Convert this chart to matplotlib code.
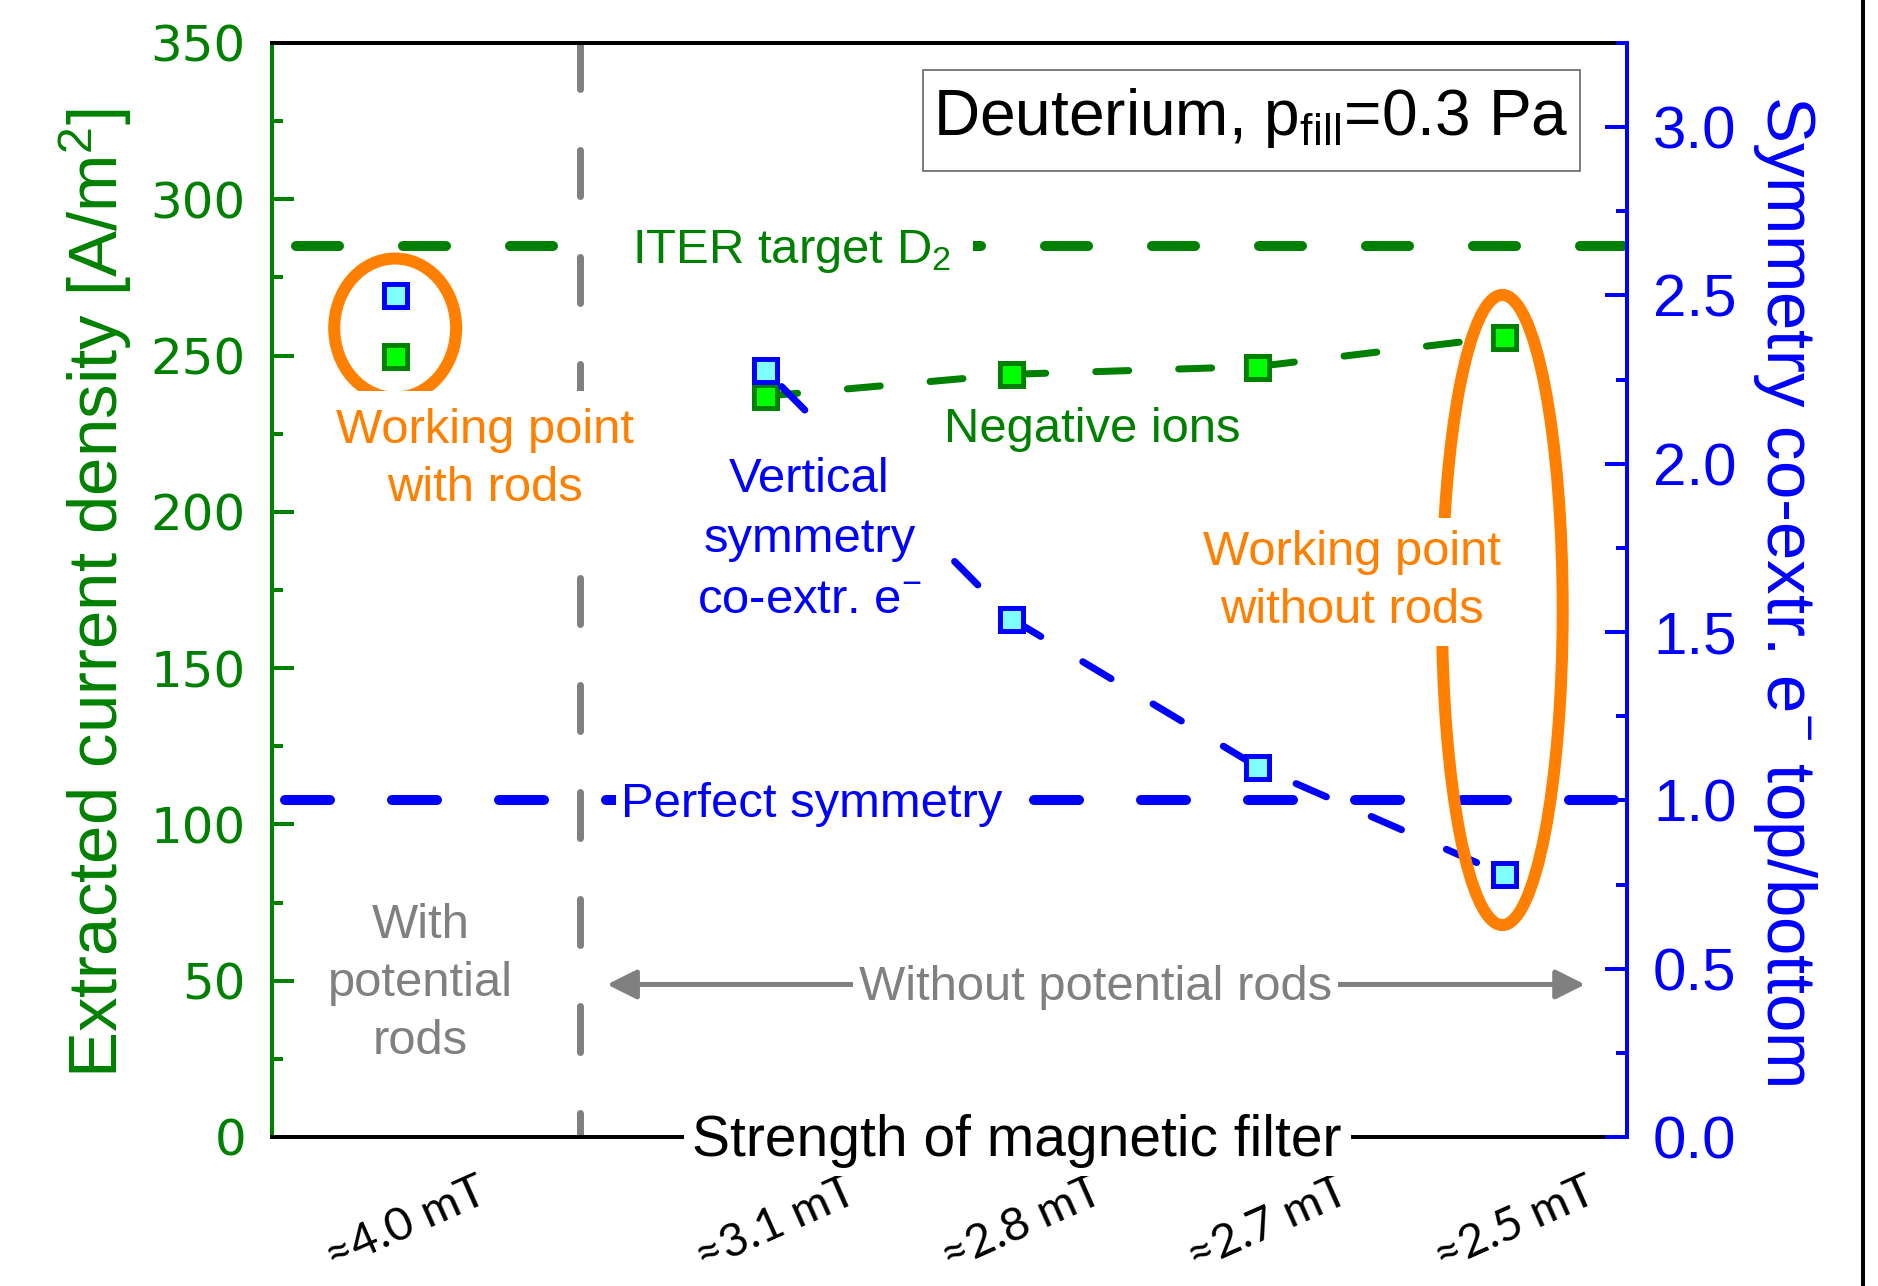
import matplotlib
matplotlib.use('Agg')
import matplotlib.pyplot as plt
from matplotlib.patches import Ellipse, Rectangle
from matplotlib.lines import Line2D
from matplotlib.ticker import MultipleLocator
from matplotlib.transforms import ScaledTranslation
import numpy as np

# --- data ---
fields = ['≈4.0 mT', '≈3.1 mT', '≈2.8 mT', '≈2.7 mT', '≈2.5 mT']
xpos = [0, 1.5, 2.5, 3.5, 4.5]
j_ions = [250, 237, 244, 246.5, 256]      # extracted current density [A/m^2]
sym_e = [2.50, 2.28, 1.54, 1.10, 0.78]    # symmetry co-extr. e- top/bottom
iter_target = 285
perfect_sym = 1.0
rod_divider = 0.75

GREEN = '#008000'
BLUE = '#0000ff'
ORANGE = '#ff8000'
GRAY = '#808080'

plt.rcParams['font.family'] = ['Liberation Sans', 'DejaVu Sans']
plt.rcParams['mathtext.fontset'] = 'custom'
plt.rcParams['mathtext.rm'] = 'Liberation Sans'
plt.rcParams['mathtext.it'] = 'Liberation Sans:italic'
plt.rcParams['mathtext.bf'] = 'Liberation Sans:bold'
plt.rcParams['lines.scale_dashes'] = False

# dpi 72 -> 1 pt == 1 px
fig = plt.figure(figsize=(1878 / 72, 1286 / 72), dpi=72)
ax = fig.add_axes([272 / 1878, 1 - 1137 / 1286, (1627 - 272) / 1878, (1137 - 43) / 1286])
ax2 = ax.twinx()

# spines
for s in ['top', 'bottom']:
    ax.spines[s].set_color('black')
    ax.spines[s].set_linewidth(4)
ax.spines['left'].set_color(GREEN)
ax.spines['left'].set_linewidth(4)
ax.spines['right'].set_visible(False)
for s in ['left', 'top', 'bottom']:
    ax2.spines[s].set_visible(False)
ax2.spines['right'].set_color(BLUE)
ax2.spines['right'].set_linewidth(4)

# guide lines
ax.plot([rod_divider, rod_divider], [350, 0], color=GRAY, lw=7,
        ls=(0, (46, 61)), dash_capstyle='round', zorder=1.5)
ax.axhline(iter_target, color=GREEN, lw=10, ls=(83, (43, 64)),
           dash_capstyle='round', zorder=1.6)
ax2.axhline(perfect_sym, color=BLUE, lw=10, ls=(94, (45, 62)),
            dash_capstyle='round', zorder=2)

# data
ax.plot(xpos[1:], j_ions[1:], color=GREEN, lw=7, ls=(0, (33, 50)),
        dash_capstyle='round', zorder=2)
ax.plot(xpos, j_ions, ls='none', marker='s', ms=23, mfc='#00ff00',
        mec=GREEN, mew=5, zorder=3)
ax2.plot(xpos[1:], sym_e[1:], color=BLUE, lw=7, ls=(58, (33, 49)),
         dash_capstyle='round', zorder=2)
ax2.plot(xpos, sym_e, ls='none', marker='s', ms=23, mfc='#80ffff',
         mec=BLUE, mew=5, zorder=5)

# working point ellipses
ax2.add_patch(Ellipse((0, 258.8), 0.495, 44.5, fill=False, ec=ORANGE, lw=12,
                      transform=ax.transData, zorder=3))
ax2.add_patch(Ellipse((4.494, 168.6), 0.49, 201.6, fill=False, ec=ORANGE, lw=12,
                      transform=ax.transData, zorder=3))

# double arrow
ax2.annotate('', xy=(4.83, 48.8), xytext=(0.86, 48.8),
             xycoords=ax.transData, textcoords=ax.transData,
             arrowprops=dict(arrowstyle='<|-|>,head_length=0.4,head_width=0.2',
                             color=GRAY, lw=5, mutation_scale=62,
                             shrinkA=0, shrinkB=0), zorder=3)


def label(x, y, s, color, pad, va='center', size=49, spacing=1.37, z=6):
    ax2.text(x, y, s, color=color, fontsize=size, ha='center', va=va,
             linespacing=spacing, transform=ax.transData, zorder=z,
             bbox=dict(fc='white', ec='none', boxstyle=f'square,pad={pad}'))


label(0.365, 216.6, 'Working point\nwith rods', ORANGE, 0.35)
label(1.608, 279.5, 'ITER target D$_2$', GREEN, 0.45, va='baseline')
label(1.681, 191.0, 'Vertical\nsymmetry\nco-extr. e$^{-}$', BLUE, 0.6, spacing=1.45)
label(2.831, 222.3, 'Negative ions', GREEN, 0.1, va='baseline', z=7)
label(3.885, 177.6, 'Working point\nwithout rods', ORANGE, 0.25)
label(1.69, 102.3, 'Perfect symmetry', BLUE, 0.1, va='baseline')
label(0.103, 49.2, 'With\npotential\nrods', GRAY, 0.1)
label(2.841, 43.8, 'Without potential rods', GRAY, 0.12, va='baseline')

# condition box
ax2.add_patch(Rectangle((2.144, 309.1), 4.808 - 2.144, 341.4 - 309.1,
                        fc='white', ec='#555555', lw=1.5,
                        transform=ax.transData, zorder=5.5))
ax2.text(3.474, 320.5, 'Deuterium, p$_{\\mathrm{fill}}$=0.3 Pa', fontsize=64,
         ha='center', va='baseline', transform=ax.transData, zorder=6)

ax.text(2.525, -6.0, 'Strength of magnetic filter', fontsize=57, ha='center',
        va='baseline', zorder=6, clip_on=False,
        bbox=dict(fc='white', ec='none', boxstyle='square,pad=0.15'))

# axes, ticks
ax.set_xlim(-0.5, 5.0)
ax.set_ylim(0, 350)
ax2.set_ylim(0, 3.25)

yt = list(range(0, 351, 50))
ax.set_yticks(yt, labels=[str(v) for v in yt], fontfamily='DejaVu Sans')
ax.yaxis.set_minor_locator(MultipleLocator(25))
ax.tick_params(axis='y', which='major', direction='in', length=22, width=4,
               color=GREEN, labelcolor=GREEN, labelsize=50, pad=26)
ax.tick_params(axis='y', which='minor', direction='in', length=11, width=4,
               color=GREEN)

yt2 = np.arange(0, 3.01, 0.5)
ax2.set_yticks(yt2, labels=[f'{v:.1f}' for v in yt2])
ax2.yaxis.set_minor_locator(MultipleLocator(0.25))
ax2.tick_params(axis='y', which='major', direction='in', length=22, width=4,
                color=BLUE, labelcolor=BLUE, labelsize=60, pad=26)
ax2.tick_params(axis='y', which='minor', direction='in', length=11, width=4,
                color=BLUE)

ax.set_xticks(xpos, labels=fields, rotation=24, ha='center', va='center',
              rotation_mode='anchor', fontfamily=['Lato', 'DejaVu Sans'],
              fontsize=47)
ax.tick_params(axis='x', direction='in', length=0, pad=87)
for lbl in ax.get_xticklabels():
    lbl.set_transform(lbl.get_transform() + ScaledTranslation(11 / 72, 0, fig.dpi_scale_trans))

ax.set_ylabel('Extracted current density [A/m$^2$]', color=GREEN, fontsize=69,
              va='center')
ax.yaxis.set_label_coords(-0.1299, 0.497)
ax2.set_ylabel('Symmetry co-extr. e$^{-}$ top/bottom', color=BLUE, fontsize=69,
               rotation=-90, va='center')
ax2.yaxis.set_label_coords(1.1166, 0.5)

# screenshot border on the right
fig.add_artist(Line2D([1863 / 1878, 1863 / 1878], [0, 1], color='black', lw=4))

fig.savefig('out.png', dpi=72)
